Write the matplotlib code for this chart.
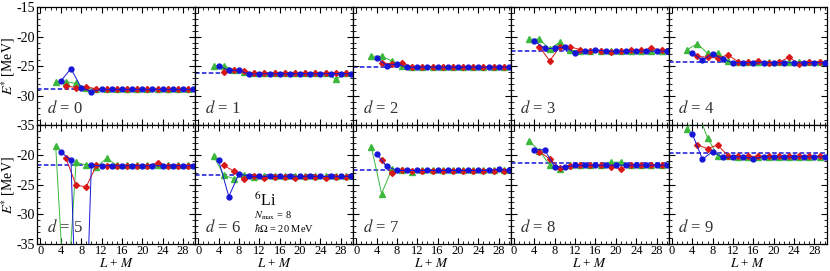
import matplotlib
matplotlib.use("Agg")
import matplotlib.pyplot as plt
from matplotlib.ticker import MultipleLocator, FixedLocator

plt.rcParams['font.family'] = ['Liberation Serif', 'DejaVu Serif']
plt.rcParams['mathtext.fontset'] = 'stix'
plt.rcParams['axes.unicode_minus'] = False

# x positions (L + M)
x_blue = [4, 6, 8, 10, 12, 14, 16, 18, 20, 22, 24, 26, 28, 30]
x_green = [3, 5, 7, 9, 11, 13, 15, 17, 19, 21, 23, 25, 27, 29]
x_red = [5, 7, 9, 11, 13, 15, 17, 19, 21, 23, 25, 27, 29]

d_labels = ["0", "1", "2", "3", "4", "5", "6", "7", "8", "9"]

# asymptotic (dashed) energies per d
e_dashed = [-28.9, -26.2, -25.1, -22.4, -24.2, -21.65, -23.4, -22.5, -21.4, -19.7]

blue = [
    [-27.5, -25.4, -28.6, -29.3, -28.9, -28.9, -28.9, -28.9, -28.9, -28.9, -28.9, -28.9, -28.9, -28.9],
    [-24.9, -25.7, -25.7, -26.35, -26.25, -26.25, -26.25, -26.25, -26.25, -26.25, -26.25, -26.25, -26.25, -26.25],
    [-23.6, -24.9, -24.6, -25.2, -25.15, -25.15, -25.15, -25.15, -25.15, -25.15, -25.15, -25.15, -25.15, -25.15],
    [-20.7, -22.0, -22.0, -21.7, -22.8, -22.4, -22.2, -22.45, -22.45, -22.45, -22.45, -22.45, -22.45, -22.45],
    [-22.7, -24.0, -22.9, -23.8, -24.4, -24.4, -24.4, -24.4, -24.4, -24.4, -24.4, -24.4, -24.4, -24.4],
    [-19.45, -20.9, -75.0, -21.75, -21.8, -21.8, -21.8, -21.8, -21.8, -21.8, -21.8, -21.8, -21.8, -21.8],
    [-20.9, -27.0, -23.15, -23.6, -23.6, -23.6, -23.6, -23.6, -23.6, -23.6, -23.6, -23.6, -23.6, -23.6],
    [-19.8, -21.9, -22.6, -22.6, -22.6, -22.6, -22.6, -22.6, -22.6, -22.6, -22.6, -22.6, -22.4, -22.6],
    [-19.1, -19.1, -22.0, -22.0, -21.75, -21.7, -21.7, -21.7, -21.7, -21.7, -21.7, -21.7, -21.7, -21.7],
    [-16.4, -20.7, -19.4, -20.4, -20.3, -20.3, -20.6, -20.3, -20.3, -20.3, -20.3, -20.3, -20.3, -20.3],
]

green = [
    [-27.6, -27.6, -27.9, -28.7, -28.9, -28.9, -28.9, -28.9, -28.9, -28.9, -28.9, -28.9, -28.9, -28.9],
    [-24.9, -24.9, -25.6, -26.0, -26.2, -26.2, -26.2, -26.2, -26.2, -26.2, -26.2, -26.2, -27.2, -26.2],
    [-23.3, -23.3, -24.1, -24.9, -25.1, -25.1, -25.1, -25.1, -25.1, -25.1, -25.1, -25.1, -25.1, -25.1],
    [-20.45, -20.4, -22.1, -20.9, -22.3, -22.4, -22.4, -22.4, -22.4, -22.4, -22.4, -22.4, -22.4, -22.4],
    [-22.2, -21.2, -22.8, -22.8, -24.1, -24.3, -24.3, -24.3, -24.3, -24.3, -24.3, -24.3, -24.3, -24.3],
    [-18.45, -48.5, -21.2, -21.7, -22.0, -20.55, -21.7, -21.7, -21.7, -21.7, -21.7, -21.7, -21.7, -21.7],
    [-20.1, -23.4, -24.0, -23.4, -23.7, -23.6, -23.6, -23.6, -23.6, -23.6, -23.6, -23.6, -23.6, -23.6],
    [-18.7, -26.5, -22.4, -22.5, -22.8, -22.6, -22.6, -22.6, -22.6, -22.6, -22.6, -22.6, -22.6, -22.6],
    [-17.6, -19.3, -21.65, -22.3, -21.75, -21.7, -21.7, -21.7, -21.2, -21.2, -21.7, -21.7, -21.7, -21.7],
    [-15.6, -12.5, -17.1, -20.1, -20.2, -20.3, -20.3, -20.3, -20.3, -20.3, -20.3, -20.3, -20.3, -20.3],
]

red = [
    [-28.3, -28.6, -28.5, -28.8, -28.9, -28.9, -28.9, -28.9, -28.9, -28.9, -28.9, -28.9, -28.9],
    [-25.9, -25.7, -25.8, -26.2, -26.2, -26.2, -26.2, -26.2, -26.2, -26.2, -26.2, -26.2, -26.2],
    [-24.4, -24.6, -24.4, -25.1, -25.1, -25.1, -25.1, -25.1, -25.1, -25.1, -25.1, -25.1, -25.1],
    [-21.7, -24.1, -21.7, -21.7, -22.2, -22.4, -22.4, -22.6, -22.4, -22.3, -22.3, -22.0, -22.2],
    [-23.3, -23.5, -23.6, -23.1, -24.2, -24.3, -24.1, -24.4, -24.3, -23.5, -24.6, -24.2, -24.3],
    [-20.5, -25.1, -25.35, -21.75, -21.8, -21.8, -21.8, -21.8, -21.8, -21.3, -21.8, -21.8, -21.8],
    [-21.75, -22.7, -24.1, -23.6, -23.9, -23.7, -23.7, -23.9, -23.7, -23.7, -23.9, -23.7, -23.7],
    [-20.8, -23.1, -22.5, -22.7, -22.7, -22.7, -22.7, -22.7, -22.7, -22.7, -22.7, -22.7, -22.7],
    [-19.4, -20.65, -22.2, -21.8, -21.7, -21.7, -21.7, -22.0, -22.3, -21.7, -21.7, -21.7, -21.7],
    [-18.3, -18.9, -18.3, -20.1, -20.2, -20.2, -20.2, -20.2, -20.2, -20.2, -20.2, -20.2, -20.2],
]

C_RED = "#d81818"
C_GREEN = "#3cb83c"
C_BLUE = "#1515d8"

fig, axes = plt.subplots(2, 5, figsize=(8.3, 2.71), dpi=100, sharex=True, sharey=True)
fig.subplots_adjust(left=0.045, right=0.996, top=0.974, bottom=0.1, wspace=0, hspace=0)

for i, ax in enumerate(axes.flat):
    ax.axhline(e_dashed[i], color=C_BLUE, ls=(0, (3, 1.5)), lw=1.1, zorder=1)
    ax.plot(x_green, green[i], color=C_GREEN, marker='^', ms=4, lw=0.7, zorder=3)
    ax.plot(x_red, red[i], color=C_RED, marker='D', ms=3, lw=0.7, zorder=4)
    ax.plot(x_blue, blue[i], color=C_BLUE, marker='o', ms=3.5, lw=0.7, zorder=5)
    ax.text(0.06, 0.14, r"$d$ = " + d_labels[i], transform=ax.transAxes,
            fontsize=12, color='#333333', va='center')
    ax.set_xlim(-0.6, 30.4)
    ax.set_ylim(-35, -15)
    ax.xaxis.set_major_locator(FixedLocator([0, 4, 8, 12, 16, 20, 24, 28]))
    ax.xaxis.set_minor_locator(MultipleLocator(1))
    ax.yaxis.set_major_locator(MultipleLocator(5))
    ax.yaxis.set_minor_locator(MultipleLocator(1))
    ax.tick_params(which='both', direction='in', top=True, right=True, labelsize=10)
    ax.tick_params(axis='x', labelsize=9)
    ax.tick_params(which='major', length=4, width=0.8, pad=1.5)
    ax.tick_params(axis='x', which='major', pad=0.5)
    ax.tick_params(which='minor', length=2, width=0.6)
    for s in ax.spines.values():
        s.set_linewidth(0.9)

for ax in axes[1, :]:
    ax.set_xlabel(r"$L$ + $M$", fontsize=9.5, labelpad=0)
for ax in axes[:, 0]:
    ax.set_ylabel(r"$E^{*}$ [MeV]", fontsize=10)
    ax.yaxis.set_label_coords(-0.13, 0.5)

fig.canvas.draw()
for t in axes[1, 0].get_yticklabels():
    if t.get_text().replace('\u2212', '-') == '-15':
        t.set_visible(False)

ax6 = axes[1, 1]
ax6.text(0.37, 0.36, r"$^{6}$Li", transform=ax6.transAxes, fontsize=11.5, va='center')
ax6.text(0.37, 0.235, r"$N_{\rm max}$ = 8", transform=ax6.transAxes, fontsize=7.5, va='center')
ax6.text(0.37, 0.135, r"$\hbar\Omega$ = 20 MeV", transform=ax6.transAxes, fontsize=7.5, va='center')

fig.savefig("out.png", dpi=100)
